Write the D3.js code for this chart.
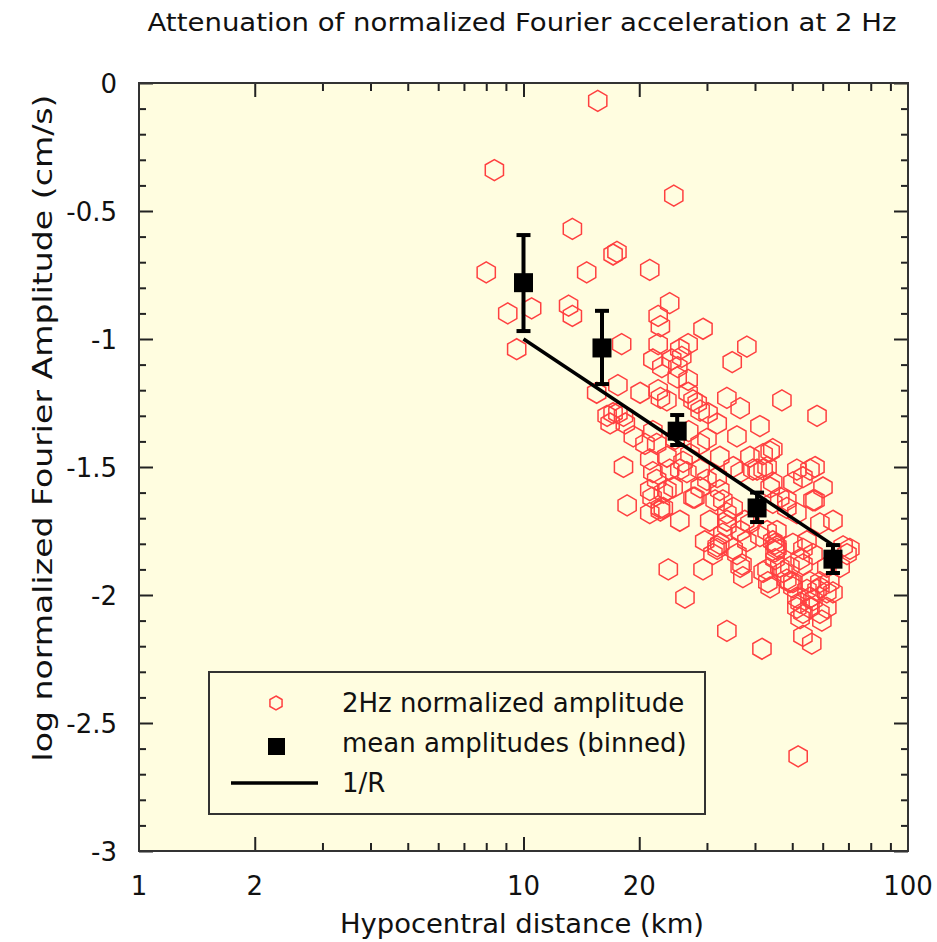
<!DOCTYPE html>
<html>
<head>
<meta charset="utf-8">
<title>Attenuation of normalized Fourier acceleration at 2 Hz</title>
<script src="https://d3js.org/d3.v7.min.js"></script>
<style>
  body { margin: 0; background: #fff; }
  svg text { font-family: 'DejaVu Sans', sans-serif; fill: #111; }
  .axis path { display: none; }
  .axis line { stroke: #222; stroke-width: 2px; }
</style>
</head>
<body>
<div id="chart"></div>
<script>
// ---- data ----
// hypocentral distance, km
var dist = [15.6, 8.4, 24.6, 13.4, 17.1, 17.5, 14.6, 21.3, 8.0, 9.1, 10.5, 13.1, 13.4, 9.6, 18.0,
  24.0, 22.4, 22.7, 29.3, 22.4, 25.5, 26.8, 38.1, 34.9, 21.7, 22.9, 24.3, 25.2, 25.8, 17.6,
  20.1, 22.4, 22.7, 23.6, 25.1, 26.8, 26.8, 27.6, 28.3, 28.8, 33.8, 36.6, 47.0, 58.0, 16.5,
  16.8, 17.6, 18.4, 19.3, 21.7, 22.2, 30.2, 31.9, 30.0, 35.9, 41.2, 42.0, 44.5, 18.2, 21.3,
  21.7, 22.2, 23.6, 24.0, 26.0, 26.6, 28.8, 30.0, 28.8, 32.4, 31.9, 35.1, 36.6, 38.8, 40.5,
  44.5, 51.4, 53.3, 55.6, 57.3, 50.2, 56.6, 60.1, 63.8, 21.3, 23.6, 21.3, 22.7, 27.9, 33.0,
  33.8, 33.8, 35.1, 46.4, 48.4, 44.5, 43.0, 45.6, 44.5, 45.6, 33.0, 32.4, 36.6, 38.1, 50.2,
  54.6, 56.6, 52.4, 69.4, 61.5, 23.8, 29.3, 36.6, 37.2, 42.0, 43.8, 47.3, 49.3, 55.6, 58.0,
  26.3, 62.6, 63.8, 33.8, 41.7, 51.4, 52.4, 56.6, 61.5, 53.3, 52.4, 59.0, 59.7, 53.3, 56.2,
  67.8, 70.6, 66.6, 51.8, 23.1, 24.5, 25.5, 27.6, 32.4, 33.8, 31.9, 31.1, 35.9, 39.5, 42.0,
  43.8, 38.8, 41.2, 43.0, 43.2, 43.8, 43.0, 59.0, 48.4, 51.4, 46.4, 53.3, 53.3, 48.4, 50.2,
  55.6, 59.0, 61.5, 55.6, 51.4, 18.6, 15.5, 17.1, 18.2, 21.6, 22.7, 23.1, 37.0, 35.1, 31.9,
  45.6, 49.3, 50.2, 54.6, 59.0, 45.1, 45.1, 45.1, 57.3, 30.5, 27.1, 26.9, 24.8, 20.7, 28.8,
  31.5, 37.6, 25.5, 29.6];
// log normalized Fourier amplitude
var logAmp = [-0.07, -0.34, -0.44, -0.57, -0.67, -0.66, -0.74, -0.73, -0.74, -0.90, -0.88, -0.87, -0.91, -1.04, -1.02,
  -0.86, -0.91, -0.95, -0.96, -1.02, -1.04, -1.02, -1.03, -1.09, -1.08, -1.11, -1.08, -1.11, -1.07, -1.18,
  -1.21, -1.20, -1.23, -1.24, -1.15, -1.16, -1.21, -1.24, -1.25, -1.28, -1.23, -1.27, -1.24, -1.30, -1.30,
  -1.33, -1.29, -1.33, -1.38, -1.36, -1.41, -1.29, -1.33, -1.39, -1.38, -1.34, -1.45, -1.43, -1.50, -1.47,
  -1.52, -1.55, -1.46, -1.51, -1.48, -1.52, -1.51, -1.55, -1.58, -1.46, -1.54, -1.50, -1.52, -1.46, -1.51,
  -1.56, -1.51, -1.54, -1.51, -1.50, -1.56, -1.63, -1.58, -1.71, -1.59, -1.59, -1.68, -1.66, -1.62, -1.63,
  -1.68, -1.71, -1.66, -1.62, -1.63, -1.64, -1.75, -1.75, -1.79, -1.82, -1.76, -1.80, -1.75, -1.79, -1.80,
  -1.79, -1.84, -1.86, -1.84, -1.89, -1.90, -1.90, -1.89, -1.93, -1.91, -1.97, -1.91, -1.95, -1.95, -1.98,
  -2.01, -1.95, -1.99, -2.14, -2.21, -2.01, -2.03, -2.02, -2.05, -2.07, -2.09, -2.07, -2.10, -2.16, -2.19,
  -1.81, -1.82, -1.89, -2.63, -1.60, -1.58, -1.51, -1.62, -1.59, -1.73, -1.81, -1.84, -1.84, -1.51, -1.51,
  -1.58, -1.72, -1.77, -1.90, -1.95, -1.44, -1.50, -1.72, -1.66, -1.68, -1.89, -1.82, -1.88, -1.94, -1.97,
  -2.01, -1.97, -1.99, -2.05, -2.05, -1.65, -1.21, -1.29, -1.30, -1.62, -1.67, -1.66, -1.88, -1.82, -1.82,
  -1.81, -1.89, -1.95, -1.98, -1.95, -1.80, -1.83, -1.86, -1.63, -1.71, -1.45, -1.36, -1.39, -1.41, -1.41,
  -1.63, -1.71, -1.71, -1.79];

// binned means with error bars
var binDist = [10.0, 16.0, 25.1, 40.5, 63.8];
var binMean = [-0.78, -1.035, -1.36, -1.66, -1.86];
var binHi = [-0.594, -0.89, -1.297, -1.60, -1.805];
var binLo = [-0.969, -1.176, -1.414, -1.715, -1.914];

// 1/R line
var fitDist = [10, 64];
var fitAmp = [-1.0, -1.806];

var xTickLabels = [1, 2, 10, 20, 100];
var yTickLabels = [0, -0.5, -1, -1.5, -2, -2.5, -3];

var legendLabels = ["2Hz normalized amplitude", "mean amplitudes (binned)", "1/R"];

// ---- set-up ----
var W = 937, H = 942;
var plot = {left: 139, right: 908, top: 83, bottom: 851};

var svg = d3.select("#chart").append("svg")
  .attr("width", W).attr("height", H);

var x = d3.scaleLog().domain([1, 100]).range([plot.left, plot.right]);
var y = d3.scaleLinear().domain([-3, 0]).range([plot.bottom, plot.top]);

// plot background
svg.append("rect")
  .attr("x", plot.left).attr("y", plot.top)
  .attr("width", plot.right - plot.left).attr("height", plot.bottom - plot.top)
  .attr("fill", "#fffde0");

// ---- ticks (inward, major + minor, on all four sides) ----
var xMinor = [3, 4, 5, 6, 7, 8, 9, 30, 40, 50, 60, 70, 80, 90];
var xMajor = [2, 10, 20];
var yMinor = d3.range(0, 31).map(function(i) { return -i / 10; })
  .filter(function(v) { return Math.round(v * 10) % 5 !== 0; });

function tickAxis(axisFn, scale, vals, size, tr) {
  svg.append("g").attr("class", "axis").attr("transform", tr)
    .call(axisFn(scale).tickValues(vals).tickSize(size).tickFormat(""));
}
tickAxis(d3.axisBottom, x, xMinor, -8, "translate(0," + plot.bottom + ")");
tickAxis(d3.axisBottom, x, xMajor, -14, "translate(0," + plot.bottom + ")");
tickAxis(d3.axisTop, x, xMinor, -8, "translate(0," + plot.top + ")");
tickAxis(d3.axisTop, x, xMajor, -14, "translate(0," + plot.top + ")");
tickAxis(d3.axisLeft, y, yMinor, -7, "translate(" + plot.left + ",0)");
tickAxis(d3.axisLeft, y, yTickLabels, -14, "translate(" + plot.left + ",0)");
tickAxis(d3.axisRight, y, yMinor, -7, "translate(" + plot.right + ",0)");
tickAxis(d3.axisRight, y, yTickLabels, -14, "translate(" + plot.right + ",0)");

// frame
svg.append("rect")
  .attr("x", plot.left).attr("y", plot.top)
  .attr("width", plot.right - plot.left).attr("height", plot.bottom - plot.top)
  .attr("fill", "none").attr("stroke", "#333").attr("stroke-width", 2);

// tick labels
svg.append("g").selectAll("text").data(xTickLabels).enter().append("text")
  .attr("x", function(d) { return x(d); })
  .attr("y", plot.bottom + 44)
  .attr("text-anchor", "middle")
  .style("font-size", "26px")
  .text(function(d) { return d; });

svg.append("g").selectAll("text").data(yTickLabels).enter().append("text")
  .attr("x", plot.left - 22)
  .attr("y", function(d) { return y(d) + 10; })
  .attr("text-anchor", "end")
  .style("font-size", "26px")
  .text(function(d) { return d; });

// titles
svg.append("text")
  .attr("x", 522).attr("y", 31)
  .attr("text-anchor", "middle")
  .attr("textLength", 749).attr("lengthAdjust", "spacingAndGlyphs")
  .style("font-size", "24px")
  .text("Attenuation of normalized Fourier acceleration at 2 Hz");

svg.append("text")
  .attr("x", 522).attr("y", 933)
  .attr("text-anchor", "middle")
  .attr("textLength", 364).attr("lengthAdjust", "spacingAndGlyphs")
  .style("font-size", "26px")
  .text("Hypocentral distance (km)");

svg.append("text")
  .attr("transform", "translate(52,428) rotate(-90)")
  .attr("text-anchor", "middle")
  .attr("textLength", 667).attr("lengthAdjust", "spacingAndGlyphs")
  .style("font-size", "26px")
  .text("log normalized Fourier Amplitude (cm/s)");

// ---- marks ----
function hexPath(r) {
  var pts = d3.range(6).map(function(i) {
    var a = Math.PI / 3 * i - Math.PI / 2;
    return [r * Math.cos(a), r * Math.sin(a)];
  });
  return "M" + pts.join("L") + "Z";
}

var pts = dist.map(function(d, i) { return {r: d, a: logAmp[i]}; });

svg.append("g").selectAll("path").data(pts).enter().append("path")
  .attr("d", hexPath(10.5))
  .attr("transform", function(d) { return "translate(" + x(d.r) + "," + y(d.a) + ")"; })
  .attr("fill", "none")
  .attr("stroke", "#ff4040")
  .attr("stroke-width", 1.5);

// 1/R line
var line = d3.line()
  .x(function(d) { return x(d[0]); })
  .y(function(d) { return y(d[1]); });
svg.append("path")
  .datum(fitDist.map(function(d, i) { return [d, fitAmp[i]]; }))
  .attr("d", line)
  .attr("fill", "none").attr("stroke", "#000").attr("stroke-width", 3.5);

// binned means + error bars
var bins = binDist.map(function(d, i) {
  return {r: d, m: binMean[i], hi: binHi[i], lo: binLo[i]};
});
var bg = svg.append("g").selectAll("g").data(bins).enter().append("g");
bg.append("line")
  .attr("x1", function(d) { return x(d.r); }).attr("x2", function(d) { return x(d.r); })
  .attr("y1", function(d) { return y(d.hi); }).attr("y2", function(d) { return y(d.lo); })
  .attr("stroke", "#000").attr("stroke-width", 4);
["hi", "lo"].forEach(function(k) {
  bg.append("line")
    .attr("x1", function(d) { return x(d.r) - 7; }).attr("x2", function(d) { return x(d.r) + 7; })
    .attr("y1", function(d) { return y(d[k]); }).attr("y2", function(d) { return y(d[k]); })
    .attr("stroke", "#000").attr("stroke-width", 4);
});
bg.append("rect")
  .attr("x", function(d) { return x(d.r) - 9.5; })
  .attr("y", function(d) { return y(d.m) - 9.5; })
  .attr("width", 19).attr("height", 19)
  .attr("fill", "#000");

// ---- legend ----
var lg = svg.append("g");
lg.append("rect")
  .attr("x", 209).attr("y", 672).attr("width", 496).attr("height", 142)
  .attr("fill", "#fffde0").attr("stroke", "#333").attr("stroke-width", 2);
lg.append("path")
  .attr("d", hexPath(7))
  .attr("transform", "translate(276,703)")
  .attr("fill", "none").attr("stroke", "#ff4040").attr("stroke-width", 1.5);
lg.append("rect")
  .attr("x", 268).attr("y", 738).attr("width", 17).attr("height", 17)
  .attr("fill", "#000");
lg.append("line")
  .attr("x1", 231).attr("x2", 318).attr("y1", 783).attr("y2", 783)
  .attr("stroke", "#000").attr("stroke-width", 3.5);
lg.selectAll("text.lab").data(legendLabels).enter().append("text")
  .attr("class", "lab")
  .attr("x", 342)
  .attr("y", function(d, i) { return 712 + i * 40; })
  .style("font-size", "26px")
  .text(function(d) { return d; });
</script>
</body>
</html>
